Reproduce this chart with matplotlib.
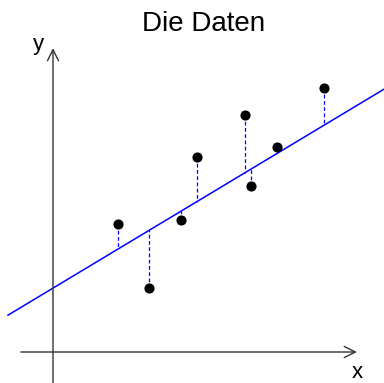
# plot.py
# -*- coding: utf-8 -*-
"""
Streudiagramm "Die Daten": Messpunkte, Regressionsgerade und Residuen
(gestrichelte Abstaende zwischen Punkt und Gerade).
"""

import numpy as np
import matplotlib.pyplot as plt

plt.rcParams["font.family"] = ["Liberation Sans", "DejaVu Sans"]

# --- Daten ---
x_pts = [2.17, 3.20, 4.27, 4.80, 6.40, 6.60, 7.47, 9.03]
y_pts = [4.27, 2.13, 4.40, 6.50, 7.90, 5.53, 6.83, 8.80]

# Gerade y = a + b * x
line_a = 2.13
line_b = 0.601
line_x = [-1.5, 11.1]

BLUE = "#0000ff"
AXIS_GRAY = "#333333"


def main():
    x = np.asarray(x_pts)
    y = np.asarray(y_pts)

    fig = plt.figure(figsize=(3.84, 3.83), dpi=100)
    ax = fig.add_axes([0, 0, 1, 1])
    ax.set_xlim(-1.767, 11.033)
    ax.set_ylim(-1.033, 11.733)
    ax.axis("off")

    # --- Koordinatenachsen mit Pfeilen ---
    arr = dict(arrowstyle="->", color=AXIS_GRAY, lw=1.0,
               mutation_scale=20, shrinkA=0, shrinkB=0)
    ax.annotate("", xy=(10.13, 0), xytext=(-1.07, 0), arrowprops=arr)
    ax.annotate("", xy=(0, 10.13), xytext=(0, -1.1), arrowprops=arr)
    ax.text(10.13, -0.88, "x", fontsize=16, ha="center", va="baseline")
    ax.text(-0.5, 10.08, "y", fontsize=16, ha="center", va="baseline")

    # --- Regressionsgerade ---
    lx = np.asarray(line_x)
    ax.plot(lx, line_a + line_b * lx, color=BLUE, lw=1.1, zorder=2)

    # --- Residuen ---
    y_hat = line_a + line_b * x
    ax.vlines(x, y, y_hat, colors=BLUE, linestyles=(0, (3, 2)), lw=0.9, zorder=1)

    # --- Punkte ---
    ax.plot(x, y, "o", color="black", ms=6.3, zorder=3)

    fig.text(0.531, 0.937, "Die Daten", fontsize=20, ha="center", va="center")

    fig.savefig("out.png", dpi=100)
    plt.close(fig)


if __name__ == "__main__":
    main()
